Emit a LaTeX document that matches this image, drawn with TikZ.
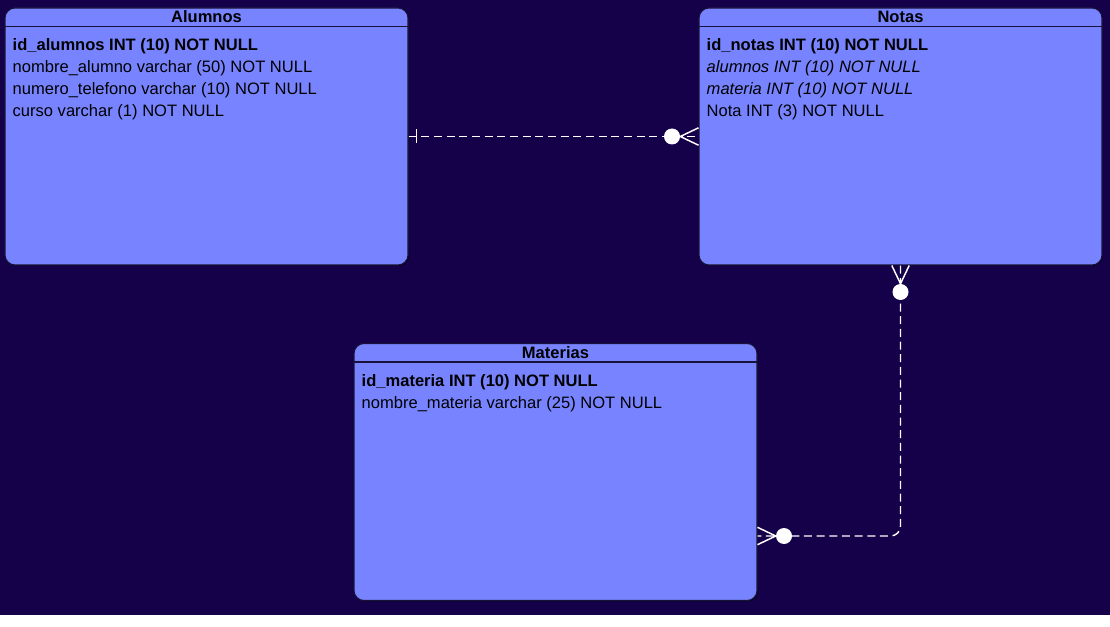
\documentclass[tikz,border=0pt]{standalone}
\usepackage{fontspec}
\setmainfont{Liberation Sans}
\usepackage{xcolor}
\usetikzlibrary{positioning,shadows}
\definecolor{bgnavy}{RGB}{21,0,74}
\definecolor{tblfill}{RGB}{120,132,255}
\definecolor{tbldraw}{RGB}{24,18,58}

\begin{document}
\begin{tikzpicture}[x=0.75pt, y=-0.75pt, every node/.style={font=\fontsize{12.4}{16.5}\selectfont},
  tbl/.style={draw=tbldraw, line width=0.8pt, fill=tblfill, rounded corners=7.5pt, minimum width=302.25pt, minimum height=192.75pt, inner sep=0pt,
    drop shadow={shadow xshift=0.8pt, shadow yshift=-0.8pt, fill=black, opacity=0.45}},
  ttl/.style={font=\fontsize{12.4}{14}\selectfont\bfseries, inner sep=0pt},
  fld/.style={anchor=north west, align=left, inner sep=0pt},
  hdr/.style={draw=tbldraw, line width=0.8pt},
  rel/.style={draw=white, dash pattern=on 6pt off 3.5pt, line width=1.1pt},
  foot/.style={draw=white, line width=1.1pt},
  dot/.style={circle, fill=white, minimum size=12pt, inner sep=0pt}]
\useasboundingbox (0,0) rectangle (1110,627);
\fill[white] (0,615) rectangle (1110,627);
\fill[bgnavy] (0,0) rectangle (1110,615);

\node[tbl] (alumnos) at (206.5,136.5) {};
\node[tbl] (notas) at (900.5,136.5) {};
\node[tbl] (materias) at (555.5,472) {};
\foreach \t in {alumnos,notas,materias}
  \draw[hdr] ([yshift=-14.25pt]\t.north west) -- ([yshift=-14.25pt]\t.north east);

\node[ttl] (alumnosT) at ([yshift=-7pt]alumnos.north) {Alumnos};
\node[ttl] (notasT) at ([yshift=-7pt]notas.north) {Notas};
\node[ttl] (materiasT) at ([yshift=-7pt]materias.north) {Materias};

\node[fld] (alumnosF) at ([xshift=6pt, yshift=-23.25pt]alumnos.north west) {\textbf{id\_alumnos INT (10) NOT NULL}\\nombre\_alumno varchar (50) NOT NULL\\numero\_telefono varchar (10) NOT NULL\\curso varchar (1) NOT NULL};
\node[fld] (notasF) at ([xshift=6pt, yshift=-23.25pt]notas.north west) {\textbf{id\_notas INT (10) NOT NULL}\\\textit{alumnos INT (10) NOT NULL}\\\textit{materia INT (10) NOT NULL}\\Nota INT (3) NOT NULL};
\node[fld] (materiasF) at ([xshift=6pt, yshift=-23.25pt]materias.north west) {\textbf{id\_materia INT (10) NOT NULL}\\nombre\_materia varchar (25) NOT NULL};

\coordinate (mR) at (materias.east |- 0,536);
\draw[rel] (alumnos.east) -- (notas.west);
\draw[rel, rounded corners=7.5pt] (notas.south) |- (mR);
\node[dot] (c1) at (672,136.5) {};
\node[dot] (c2) at (900.5,292) {};
\node[dot] (c3) at (784,536) {};
\draw[foot] ([xshift=6pt, yshift=5.25pt]alumnos.east) -- ([xshift=6pt, yshift=-5.25pt]alumnos.east);
\draw[foot] ([yshift=6.5pt]notas.west) -- (c1.east) -- ([yshift=-6.5pt]notas.west);
\draw[foot] ([xshift=-6.5pt]notas.south) -- (c2.north) -- ([xshift=6.5pt]notas.south);
\draw[foot] ([yshift=6.5pt]mR) -- (c3.west) -- ([yshift=-6.5pt]mR);
\end{tikzpicture}
\end{document}
